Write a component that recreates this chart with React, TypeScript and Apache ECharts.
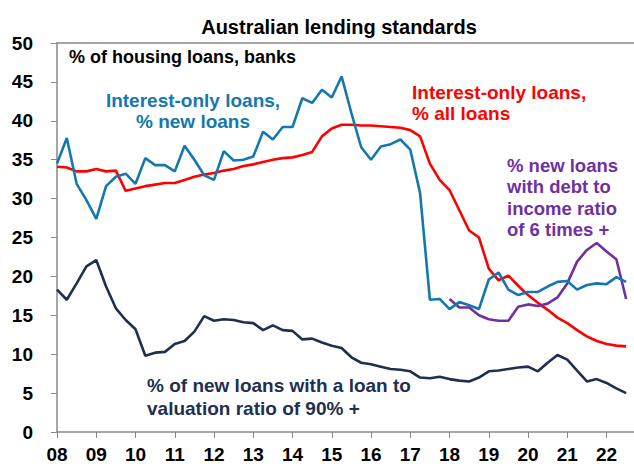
import React, { useEffect, useRef } from "react";
import * as echarts from "echarts";

const startYear = 2008;
const yearTicks = [2008, 2009, 2010, 2011, 2012, 2013, 2014, 2015, 2016, 2017, 2018, 2019, 2020, 2021, 2022];

// Quarterly values starting 2008 Q1
const ioNewLoans = [
  34.5, 37.8, 31.9, 29.8, 27.4, 31.6, 32.8, 33.2, 31.9, 35.2, 34.3, 34.3,
  33.5, 36.8, 35.0, 33.0, 32.4, 36.1, 34.9, 35.0, 35.4, 38.6, 37.6, 39.2,
  39.2, 42.9, 42.3, 44.0, 43.0, 45.7, 41.0, 36.6, 35.0, 36.7, 37.0, 37.6,
  36.3, 30.7, 17.0, 17.1, 15.8, 16.7, 16.3, 15.8, 19.6, 20.5, 18.3, 17.6,
  18.0, 18.0, 18.7, 19.3, 19.4, 18.3, 18.9, 19.1, 19.0, 19.9, 19.3,
];
const ioAllLoans = [
  34.1, 34.0, 33.5, 33.5, 33.8, 33.5, 33.6, 31.0, 31.3, 31.6, 31.8, 32.0,
  32.0, 32.4, 32.8, 33.1, 33.3, 33.6, 33.8, 34.2, 34.4, 34.7, 35.0, 35.2,
  35.3, 35.6, 36.0, 38.0, 39.0, 39.5, 39.5, 39.4, 39.4, 39.3, 39.2, 39.1,
  38.8, 38.0, 34.5, 32.4, 31.1, 28.5, 25.9, 25.0, 21.0, 19.5, 20.1, 18.8,
  17.6, 16.6, 15.7, 14.7, 14.0, 13.1, 12.3, 11.7, 11.3, 11.1, 11.0,
];
const lvr90 = [
  18.3, 17.0, 19.1, 21.3, 22.1, 18.7, 15.9, 14.4, 13.2, 9.8, 10.2, 10.3,
  11.3, 11.7, 12.9, 14.9, 14.3, 14.5, 14.4, 14.1, 14.0, 13.1, 13.7, 13.1,
  13.0, 11.9, 12.0, 11.5, 11.1, 10.8, 9.6, 8.9, 8.7, 8.4, 8.1, 8.0,
  7.8, 7.0, 6.9, 7.1, 6.8, 6.6, 6.5, 7.0, 7.8, 7.9, 8.1, 8.3,
  8.4, 7.8, 8.9, 9.9, 9.3, 7.9, 6.5, 6.8, 6.3, 5.6, 5.0,
];
// starts 2018 Q1
const dtiStartYear = 2018;
const dti6 = [
  17.1, 16.0, 16.0, 15.0, 14.5, 14.3, 14.3, 16.1, 16.4, 16.2, 16.5, 17.3,
  19.1, 21.9, 23.4, 24.3, 23.2, 22.2, 17.1,
];
const yTicks = [0, 5, 10, 15, 20, 25, 30, 35, 40, 45, 50];

const BLUE = "#1478ae";
const RED = "#ff0000";
const PURPLE = "#7030a0";
const NAVY = "#1f2f4f";
const FONT = "'Liberation Sans', Arial, sans-serif";

const toPairs = (arr: number[], start: number) => arr.map((v, i) => [start + i * 0.25, v]);

export default function App() {
  const ref = useRef<HTMLDivElement>(null);
  useEffect(() => {
    if (!ref.current) return;
    const chart = echarts.init(ref.current, undefined, { renderer: "svg" });
    const xMin = yearTicks[0];
    const xMax = 2022.7;
    const lineSeries = (name: string, data: number[][], color: string) => ({
      name,
      type: "line",
      data,
      showSymbol: false,
      symbol: "none",
      lineStyle: { color, width: 2.6 },
      itemStyle: { color },
      z: 3,
    });
    const annot = (
      x: number,
      y: number,
      lines: string[],
      color: string,
      size: number,
      step: number,
      align = "left"
    ) =>
      lines.map((t, k) => ({
        type: "text",
        x,
        y: y + k * step,
        style: {
          text: t,
          fill: color,
          font: `bold ${size}px ${FONT}`,
          textAlign: align,
          textVerticalAlign: "middle",
        },
      }));
    chart.setOption({
      animation: false,
      backgroundColor: "#fff",
      textStyle: { fontFamily: FONT },
      title: {
        text: "Australian lending standards",
        left: 334,
        top: 12,
        textAlign: "center",
        textStyle: { fontSize: 20, fontWeight: "bold", color: "#000", fontFamily: FONT },
      },
      grid: { left: 57, right: 0, top: 43, bottom: 32, containLabel: false },
      xAxis: [
        {
          type: "value",
          min: xMin,
          max: xMax,
          interval: 1,
          axisLine: { show: true, lineStyle: { color: "#888", width: 1.5 } },
          axisTick: { show: true, length: 6, lineStyle: { color: "#888" } },
          splitLine: { show: false },
          axisLabel: {
            margin: 13,
            fontSize: 19,
            fontWeight: "bold",
            color: "#000",
            fontFamily: FONT,
            showMaxLabel: false,
            formatter: (v: number) =>
              Number.isInteger(v) && yearTicks.includes(v) ? String(v % 100).padStart(2, "0") : "",
          },
        },
        {
          type: "value",
          position: "top",
          min: xMin,
          max: xMax,
          interval: 1,
          axisLine: { show: true, lineStyle: { color: "#888", width: 1.5 } },
          axisTick: { show: false },
          axisLabel: { show: false },
          splitLine: { show: false },
        },
      ],
      yAxis: {
        type: "value",
        min: yTicks[0],
        max: yTicks[yTicks.length - 1],
        interval: 5,
        axisLine: { show: true, lineStyle: { color: "#888", width: 1.5 } },
        axisTick: { show: true, length: 6, inside: false, lineStyle: { color: "#888" } },
        splitLine: { show: false },
        axisLabel: {
          margin: 24,
          fontSize: 19,
          fontWeight: "bold",
          color: "#000",
          fontFamily: FONT,
        },
      },
      series: [
        lineSeries("Interest-only loans, % all loans", toPairs(ioAllLoans, startYear), RED),
        lineSeries("% of new loans with LVR 90%+", toPairs(lvr90, startYear), NAVY),
        lineSeries("% new loans with DTI 6+", toPairs(dti6, dtiStartYear), PURPLE),
        lineSeries("Interest-only loans, % new loans", toPairs(ioNewLoans, startYear), BLUE),
      ],
      graphic: [
        ...annot(69, 57, ["% of housing loans, banks"], "#000", 18, 0),
        ...annot(193, 100, ["Interest-only loans,", "% new loans"], BLUE, 19, 21, "center"),
        ...annot(412, 92, ["Interest-only loans,", "% all loans"], RED, 19, 21),
        ...annot(507, 165, ["% new loans", "with debt to", "income ratio", "of 6 times +"], PURPLE, 18.5, 21.5),
        ...annot(147, 385, ["% of new loans with a loan to", "valuation ratio of 90% +"], NAVY, 19, 23),
      ],
    });
    return () => chart.dispose();
  }, []);
  return (
    <div
      ref={ref}
      style={{ position: "fixed", left: 0, top: 0, width: 634, height: 464, background: "#fff" }}
    />
  );
}
